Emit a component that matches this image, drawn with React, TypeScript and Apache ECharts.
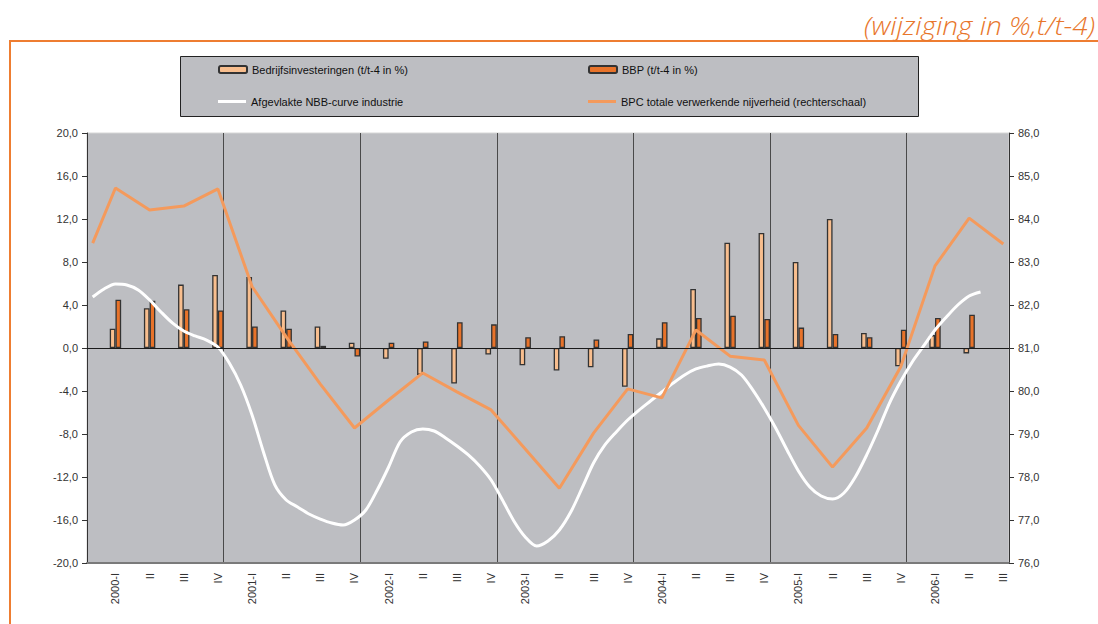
import { useEffect, useRef } from 'react';
import * as echarts from 'echarts';

// Quarter labels (x axis)
const quarters = [
  '2000-I', 'II', 'III', 'IV',
  '2001-I', 'II', 'III', 'IV',
  '2002-I', 'II', 'III', 'IV',
  '2003-I', 'II', 'III', 'IV',
  '2004-I', 'II', 'III', 'IV',
  '2005-I', 'II', 'III', 'IV',
  '2006-I', 'II', 'III',
];

// Bedrijfsinvesteringen (t/t-4 in %), quarterly
const investments = [
  1.8, 3.7, 5.9, 6.8,
  6.6, 3.5, 2.0, 0.5,
  -1.0, -2.5, -3.3, -0.6,
  -1.6, -2.1, -1.8, -3.6,
  0.9, 5.5, 9.8, 10.7,
  8.0, 12.0, 1.4, -1.7,
  1.2, -0.5, null,
];

// BBP (t/t-4 in %), quarterly
const gdp = [
  4.5, 4.4, 3.6, 3.5,
  2.0, 1.8, 0.2, -0.8,
  0.5, 0.6, 2.4, 2.2,
  1.0, 1.1, 0.8, 1.3,
  2.4, 2.8, 3.0, 2.7,
  1.9, 1.3, 1.0, 1.7,
  2.8, 3.1, null,
];

// BPC totale verwerkende nijverheid (rechterschaal): first month value + quarterly values
const bpcStart = 83.44;
const bpc = [
  84.72, 84.21, 84.30, 84.70,
  82.43, 81.26, 80.16, 79.14,
  79.79, 80.42, 79.98, 79.56,
  78.65, 77.74, 79.02, 80.05,
  79.84, 81.42, 80.81, 80.72,
  79.20, 78.23, 79.14, 80.57,
  82.91, 84.02, 83.42,
];

// Afgevlakte NBB-curve industrie, monthly
const nbb = [
  4.74, 5.49, 5.95, 5.86, 5.40, 4.47, 3.35, 2.33, 1.58, 1.12, 0.74, 0.09,
  -1.40, -3.44, -6.23, -9.67, -12.74, -14.14, -14.79, -15.44, -15.91, -16.28, -16.47, -16.0,
  -15.07, -13.21, -11.07, -8.74, -7.81, -7.53, -7.72, -8.37, -9.12, -9.95, -10.98, -12.28,
  -14.14, -16.09, -17.58, -18.42, -17.95, -16.93, -15.26, -13.02, -10.70, -9.02, -7.81, -6.70,
  -5.77, -4.93, -4.09, -3.26, -2.51, -1.95, -1.67, -1.49, -1.77, -2.51, -3.91, -5.58,
  -7.44, -9.49, -11.44, -12.93, -13.77, -14.05, -13.49, -12.0, -9.95, -7.63, -5.12, -3.07,
  -1.30, 0.19, 1.67, 2.88, 4.0, 4.84, 5.21,
];

const leftTicks = { min: -20, max: 20, interval: 4 };
const rightTicks = { min: 76, max: 86, interval: 1 };

const FONT = 'Liberation Sans, Arial, sans-serif';

export default function App() {
  const ref = useRef<HTMLDivElement>(null);

  useEffect(() => {
    if (!ref.current) return;
    const chart = echarts.init(ref.current, undefined, { renderer: 'svg' });

    const nMonths = quarters.length * 3;
    const months = Array.from({ length: nMonths }, (_, i) => `m${i}`);
    const toMonthly = (arr: (number | null)[]) => {
      const out: any[] = Array(nMonths).fill('-');
      arr.forEach((v, k) => {
        out[k * 3 + 2] = v == null ? '-' : v;
      });
      return out;
    };
    const bpcMonthly = toMonthly(bpc);
    bpcMonthly[0] = bpcStart;

    const fmt = (v: number) => v.toFixed(1).replace('.', ',');

    const lightColor = '#F8BE8E';
    const darkColor = '#E8732A';
    const orangeLine = '#F49A5C';
    const borderCol = '#333333';

    const legendBase = {
      orient: 'horizontal',
      padding: 0,
      itemWidth: 28,
      itemHeight: 7,
      selectedMode: false,
      textStyle: { fontFamily: FONT, fontSize: 11, color: '#111' },
    };

    chart.setOption({
      animation: false,
      textStyle: { fontFamily: FONT },
      graphic: [
        {
          type: 'rect',
          z: -10,
          silent: true,
          shape: { x: 10, y: 41, width: 1100, height: 620 },
          style: { fill: '#fff', stroke: '#EE7D31', lineWidth: 2 },
        },
        {
          type: 'rect',
          z: 0,
          silent: true,
          shape: { x: 180.5, y: 56.5, width: 738, height: 60 },
          style: { fill: '#BDBEC2', stroke: '#222', lineWidth: 1 },
        },
        {
          type: 'text',
          z: 10,
          x: 1095,
          y: 26,
          scaleX: 1.12,
          style: {
            text: '(wijziging in %,t/t-4)',
            fill: '#E8762C',
            font: 'italic 300 25px "Open Sans", sans-serif',
            align: 'right',
            verticalAlign: 'middle',
          },
        },
      ],
      legend: [
        { ...legendBase, left: 218, top: 64, data: ['Bedrijfsinvesteringen (t/t-4 in %)'] },
        { ...legendBase, left: 588, top: 64, data: ['BBP (t/t-4 in %)'] },
        {
          ...legendBase,
          left: 218,
          top: 96,
          itemHeight: 3,
          data: [{ name: 'Afgevlakte NBB-curve industrie', icon: 'rect' }],
        },
        {
          ...legendBase,
          left: 588,
          top: 96,
          itemHeight: 3,
          data: [{ name: 'BPC totale verwerkende nijverheid (rechterschaal)', icon: 'rect' }],
        },
      ],
      grid: {
        left: 87,
        top: 133,
        width: 922,
        height: 430,
        show: true,
        backgroundColor: '#BDBEC2',
        borderColor: '#d6d6d6',
        borderWidth: 1,
      },
      xAxis: {
        type: 'category',
        data: months,
        boundaryGap: true,
        axisLine: { onZero: false, lineStyle: { color: '#7a7a7a', width: 2 } },
        axisTick: { show: false },
        axisLabel: {
          rotate: 90,
          margin: 10,
          fontSize: 11,
          color: '#333',
          fontFamily: FONT,
          interval: (i: number) => i % 3 === 2,
          formatter: (_v: string, i: number) => (i % 3 === 2 ? quarters[(i - 2) / 3] : ''),
        },
        splitLine: {
          show: true,
          interval: (i: number) => i > 0 && i % 12 === 0,
          lineStyle: { color: '#4a4a4a', width: 1 },
        },
      },
      yAxis: [
        {
          type: 'value',
          position: 'left',
          ...leftTicks,
          axisLine: { show: true, lineStyle: { color: '#333', width: 1 } },
          axisTick: { show: true, length: 5, lineStyle: { color: '#333' } },
          splitLine: { show: false },
          axisLabel: { formatter: fmt, fontSize: 11, color: '#333', fontFamily: FONT, margin: 9 },
        },
        {
          type: 'value',
          position: 'right',
          ...rightTicks,
          axisLine: { show: true, lineStyle: { color: '#333', width: 1 } },
          axisTick: { show: true, length: 5, lineStyle: { color: '#333' } },
          splitLine: { show: false },
          axisLabel: { formatter: fmt, fontSize: 11, color: '#333', fontFamily: FONT, margin: 9 },
        },
      ],
      series: [
        {
          name: 'Bedrijfsinvesteringen (t/t-4 in %)',
          type: 'bar',
          data: toMonthly(investments),
          barWidth: 5.7,
          barGap: '0%',
          itemStyle: { color: lightColor, borderColor: borderCol, borderWidth: 1.3 },
          markLine: {
            silent: true,
            symbol: 'none',
            label: { show: false },
            lineStyle: { color: '#1a1a1a', width: 1, type: 'solid' },
            data: [{ yAxis: 0 }],
          },
        },
        {
          name: 'BBP (t/t-4 in %)',
          type: 'bar',
          data: toMonthly(gdp),
          barWidth: 5.7,
          barGap: '0%',
          itemStyle: { color: darkColor, borderColor: borderCol, borderWidth: 1.3 },
        },
        {
          name: 'Afgevlakte NBB-curve industrie',
          type: 'line',
          yAxisIndex: 0,
          data: nbb,
          smooth: 0.3,
          symbol: 'none',
          lineStyle: { color: '#ffffff', width: 3 },
          itemStyle: { color: '#ffffff' },
        },
        {
          name: 'BPC totale verwerkende nijverheid (rechterschaal)',
          type: 'line',
          yAxisIndex: 1,
          data: bpcMonthly,
          connectNulls: true,
          symbol: 'none',
          lineStyle: { color: orangeLine, width: 3 },
          itemStyle: { color: orangeLine },
        },
      ],
    });

    return () => chart.dispose();
  }, []);

  return (
    <div
      ref={ref}
      style={{ position: 'fixed', left: 0, top: 0, width: 1098, height: 624, background: '#fff' }}
    />
  );
}
